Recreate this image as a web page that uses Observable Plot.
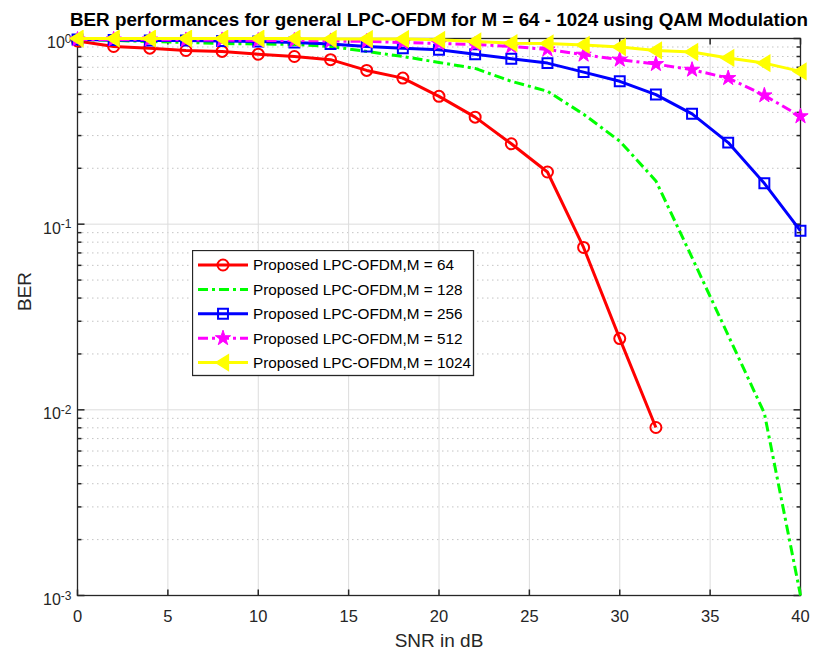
<!DOCTYPE html>
<html>
<head>
<meta charset="utf-8">
<script src="https://cdn.jsdelivr.net/npm/d3@7"></script>
<script src="https://cdn.jsdelivr.net/npm/@observablehq/plot@0.6"></script>
<style>
  body { margin: 0; background: #fff; }
  #wrap { position: relative; width: 815px; height: 662px; overflow: hidden; }
  #title { display: block; }
  #legend { position: absolute; left: 192px; top: 250px; }
</style>
</head>
<body>
<div id="wrap">
  <svg id="title" width="815" height="30"></svg>
  <div id="chart"></div>
  <svg id="legend" width="283" height="127"></svg>
</div>
<script>
// ---- data ----
const titleText = "BER performances for general LPC-OFDM for M = 64 - 1024 using QAM Modulation";
const snr = [0, 2, 4, 6, 8, 10, 12, 14, 16, 18, 20, 22, 24, 26, 28, 30, 32, 34, 36, 38, 40];
const ber64   = [0.97, 0.906, 0.887, 0.862, 0.852, 0.823, 0.800, 0.769, 0.673, 0.612, 0.488, 0.377, 0.271, 0.191, 0.0749, 0.0242, 0.00803];
const ber128  = [0.988, 0.976, 0.964, 0.952, 0.940, 0.934, 0.929, 0.906, 0.852, 0.800, 0.743, 0.690, 0.588, 0.520, 0.391, 0.280, 0.171, 0.0661, 0.0252, 0.0096, 0.001];
const ber256  = [0.988, 0.982, 0.976, 0.976, 0.970, 0.964, 0.952, 0.934, 0.906, 0.887, 0.870, 0.823, 0.778, 0.737, 0.659, 0.588, 0.499, 0.393, 0.275, 0.166, 0.0921];
const ber512  = [0.988, 0.988, 0.988, 0.982, 0.982, 0.976, 0.976, 0.970, 0.964, 0.952, 0.940, 0.929, 0.906, 0.873, 0.818, 0.769, 0.728, 0.679, 0.612, 0.494, 0.381];
const ber1024 = [1.0, 1.0, 1.0, 1.0, 1.0, 1.0, 1.0, 0.994, 0.994, 0.994, 0.984, 0.964, 0.944, 0.940, 0.923, 0.900, 0.862, 0.846, 0.786, 0.737, 0.665];
const seriesNames = [
  "Proposed LPC-OFDM,M = 64",
  "Proposed LPC-OFDM,M = 128",
  "Proposed LPC-OFDM,M = 256",
  "Proposed LPC-OFDM,M = 512",
  "Proposed LPC-OFDM,M = 1024"
];
const xTicks = [0, 5, 10, 15, 20, 25, 30, 35, 40];
const yTicks = [0.001, 0.01, 0.1, 1];
const yMinor = [0.002,0.003,0.004,0.005,0.006,0.007,0.008,0.009,
                0.02,0.03,0.04,0.05,0.06,0.07,0.08,0.09,
                0.2,0.3,0.4,0.5,0.6,0.7,0.8,0.9];

// ---- styles ----
const axisColor = "#262626";
const font = "'Liberation Sans', Arial, Helvetica, sans-serif";
const NS = "http://www.w3.org/2000/svg";
const triLeft = { draw(ctx, size) { const r = Math.sqrt(size / Math.PI);
  ctx.moveTo(-1.2 * r, 0); ctx.lineTo(0.9 * r, -1.3 * r); ctx.lineTo(0.9 * r, 1.3 * r); ctx.closePath(); } };
const tk = (dx, dy) => ({ draw(ctx, size) { const l = Math.sqrt(size / Math.PI);
  ctx.moveTo(0, 0); ctx.lineTo(dx * l, dy * l); } });
const styles = [
  { stroke: "#ff0000", dash: null, symbol: "circle", r: 5.5, fill: "none", sw: 2 },
  { stroke: "#00ff00", dash: "10,4,3,4", symbol: null },
  { stroke: "#0000ff", dash: null, symbol: "square", r: 5.6, fill: "none", sw: 2 },
  { stroke: "#ff00ff", dash: "10,4,3,4", symbol: "star", r: 4.8, fill: "#ff00ff", sw: 1 },
  { stroke: "#ffff00", dash: null, symbol: triLeft, r: 6, fill: "#ffff00", sw: 1.5 }
];
const allSeries = [ber64, ber128, ber256, ber512, ber1024];
const tables = allSeries.map((vals, k) => vals.map((v, i) => ({ snr: snr[i], ber: v, series: seriesNames[k] })));

const seriesMarks = tables.flatMap((rows, k) => {
  const s = styles[k];
  const m = [Plot.line(rows, { x: "snr", y: "ber", stroke: s.stroke, strokeWidth: 3,
    strokeDasharray: s.dash, strokeLinejoin: "round", strokeLinecap: "butt" })];
  if (s.symbol) m.push(Plot.dot(rows, { x: "snr", y: "ber", symbol: s.symbol, r: s.r,
    stroke: s.stroke, fill: s.fill, strokeWidth: s.sw }));
  return m;
});

// ---- title ----
d3.select("#title").append("text").attr("x", 439).attr("y", 26).attr("text-anchor", "middle")
  .attr("font-family", font).attr("font-weight", "bold").attr("font-size", "19px")
  .attr("fill", "#000").attr("textLength", 738).attr("lengthAdjust", "spacingAndGlyphs")
  .text(titleText);

const chart = Plot.plot({
  width: 815, height: 632,
  marginLeft: 77, marginRight: 15, marginTop: 8, marginBottom: 67,
  style: { fontFamily: font, fontSize: "16px", color: axisColor, background: "#fff" },
  x: { domain: [0, 40] },
  y: { type: "log", domain: [0.001, 1] },
  marks: [
    Plot.gridY(yMinor, { stroke: "#c4c4c4", strokeOpacity: 1, strokeDasharray: "1.5,3.5" }),
    Plot.gridX(xTicks, { stroke: "#dcdcdc", strokeOpacity: 1 }),
    Plot.gridY(yTicks, { stroke: "#dcdcdc", strokeOpacity: 1 }),
    Plot.frame({ stroke: axisColor, strokeWidth: 1.3 }),
    Plot.dot(xTicks, { x: d => d, frameAnchor: "bottom", symbol: tk(0, -1), r: 6, stroke: axisColor, fill: "none" }),
    Plot.dot(xTicks, { x: d => d, frameAnchor: "top", symbol: tk(0, 1), r: 6, stroke: axisColor, fill: "none" }),
    Plot.dot(yTicks, { y: d => d, frameAnchor: "left", symbol: tk(1, 0), r: 7, stroke: axisColor, fill: "none" }),
    Plot.dot(yTicks, { y: d => d, frameAnchor: "right", symbol: tk(-1, 0), r: 7, stroke: axisColor, fill: "none" }),
    Plot.dot(yMinor, { y: d => d, frameAnchor: "left", symbol: tk(1, 0), r: 4, stroke: axisColor, fill: "none" }),
    Plot.dot(yMinor, { y: d => d, frameAnchor: "right", symbol: tk(-1, 0), r: 4, stroke: axisColor, fill: "none" }),
    Plot.axisX(xTicks, { tickSize: 0, tickPadding: 15, label: null, fontSize: 16.5 }),
    Plot.axisY(yTicks, { tickSize: 0, tickPadding: 6, label: null, fontSize: 16, dy: 4.5,
      tickFormat: d => "10^" + Math.round(Math.log10(d)) }),
    Plot.text(["SNR in dB"], { frameAnchor: "bottom", dy: 51, fontSize: 19, fill: axisColor }),
    Plot.text(["BER"], { frameAnchor: "left", dx: -53, dy: -6, rotate: -90, fontSize: 19, fill: axisColor }),
    ...seriesMarks
  ]
});
document.getElementById("chart").appendChild(chart);

// superscript exponents on y tick labels
chart.querySelectorAll('[aria-label="y-axis tick label"] text').forEach(t => {
  const parts = t.textContent.split("^");
  if (parts.length !== 2) return;
  t.textContent = "";
  const base = document.createElementNS(NS, "tspan"); base.textContent = parts[0];
  const sup = document.createElementNS(NS, "tspan"); sup.textContent = parts[1];
  sup.setAttribute("dy", "-0.45em"); sup.setAttribute("font-size", "12px");
  t.appendChild(base); t.appendChild(sup);
});

// ---- legend ----
const lg = d3.select("#legend");
lg.append("rect").attr("x", 0.5).attr("y", 0.5).attr("width", 281).attr("height", 125)
  .attr("fill", "#fff").attr("stroke", axisColor).attr("stroke-width", 1.3);
seriesNames.forEach((name, k) => {
  const s = styles[k];
  const cy = 15 + k * 24.4;
  lg.append("line").attr("x1", 6).attr("x2", 56).attr("y1", cy).attr("y2", cy)
    .attr("stroke", s.stroke).attr("stroke-width", 3).attr("stroke-dasharray", s.dash);
  if (s.symbol) {
    const typ = s.symbol === "circle" ? d3.symbolCircle : s.symbol === "square" ? d3.symbolSquare
      : s.symbol === "star" ? d3.symbolStar : s.symbol;
    lg.append("path").attr("transform", `translate(31,${cy})`)
      .attr("d", d3.symbol(typ, s.r * s.r * Math.PI)())
      .attr("fill", s.fill).attr("stroke", s.stroke).attr("stroke-width", s.sw);
  }
  lg.append("text").attr("x", 61).attr("y", cy).attr("dy", "0.35em")
    .attr("font-family", font).attr("font-size", "15.3px").attr("fill", "#000").text(name);
});
</script>
</body>
</html>
